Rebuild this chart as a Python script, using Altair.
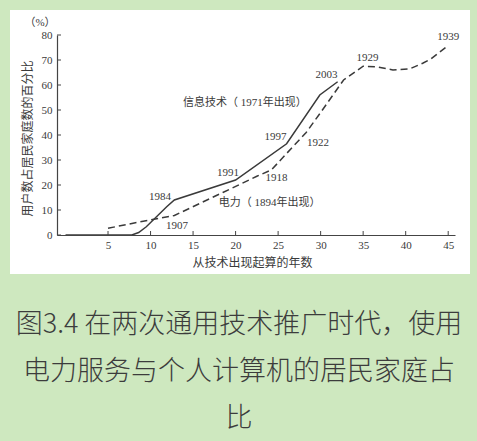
import altair as alt
import pandas as pd

# ---- data ----
# 信息技术 (1971): years since introduction vs share of households (%)
it_years = [0, 7.8, 8.6, 9.5, 11.9, 12.8, 20.0, 26.0, 29.9, 32.0]
it_share = [0, 0, 1.0, 3.3, 11.3, 14.0, 22.0, 36.5, 56.0, 61.3]

# 电力 (1894)
el_years = [5.0, 8.7, 12.8, 18.5, 22.5, 24.2, 27.2, 28.3, 30.0, 32.7, 35.0, 36.6, 38.5, 40.5, 42.0, 43.0, 45.0]
el_share = [2.7, 5.2, 7.8, 17.0, 23.5, 26.0, 37.0, 41.0, 49.0, 62.0, 67.5, 67.3, 66.0, 66.5, 68.7, 70.5, 75.8]

x_ticks = [5, 10, 15, 20, 25, 30, 35, 40, 45]
y_ticks = [0, 10, 20, 30, 40, 50, 60, 70, 80]

ann_text = ["1984", "1907", "1991", "1918", "1997", "1922", "2003", "1929", "1939",
            "信息技术（ 1971年出现）", "电力（ 1894年出现）"]
ann_x = [11.1, 13.1, 19.1, 24.8, 24.7, 29.7, 30.7, 35.5, 45.0, 21.1, 24.0]
ann_y = [15.2, 3.6, 24.9, 22.7, 39.2, 36.7, 64.0, 70.7, 79.3, 52.7, 13.0]

caption_lines = ["图3.4 在两次通用技术推广时代，使用", "电力服务与个人计算机的居民家庭占", "比"]

# ---- styling ----
SERIF = "Liberation Serif, Noto Sans CJK SC"
SANS = "Noto Sans CJK SC"
INK = "#3a3a3a"
BG = "#cee8bf"

it_df = pd.DataFrame({"x": it_years, "y": it_share})
el_df = pd.DataFrame({"x": el_years, "y": el_share})
ann_df = pd.DataFrame({"x": ann_x, "y": ann_y, "label": ann_text})
xt_df = pd.DataFrame({"x": x_ticks})
yt_df = pd.DataFrame({"y": y_ticks})
one = pd.DataFrame({"a": [0]})

xs = alt.Scale(domain=[-1, 45.8], nice=False, zero=False)
ys = alt.Scale(domain=[0, 80], nice=False, zero=False)

xaxis = alt.Axis(values=x_ticks, ticks=False, tickSize=0, labelPadding=4, grid=False,
                 labelFont=SERIF, labelFontSize=11, labelColor=INK, labelFlush=False,
                 domainColor="#444", domainWidth=1.2, format="d",
                 title="从技术出现起算的年数", titleFont=SERIF, titleFontSize=12,
                 titleFontWeight="normal", titleColor=INK, titleX=195, titleY=27,
                 titleAlign="center", titleBaseline="middle", zindex=1)
yaxis = alt.Axis(values=y_ticks, ticks=False, tickSize=0, labelPadding=5, grid=False,
                 labelFont=SERIF, labelFontSize=11, labelColor=INK, labelFlush=False,
                 domainColor="#444", domainWidth=1.2, format="d",
                 title="用户数占居民家庭数的百分比", titleFont=SERIF, titleFontSize=12,
                 titleFontWeight="normal", titleColor=INK, titleX=-30, titleY=103,
                 titleAngle=270, titleAlign="center", titleBaseline="middle", zindex=1)

X = alt.X("x:Q", scale=xs, axis=xaxis)
Y = alt.Y("y:Q", scale=ys, axis=yaxis)

panel = alt.Chart(one).mark_rect(color="white").encode(
    x=alt.value(-47), x2=alt.value(413), y=alt.value(-25), y2=alt.value(239))

it_line = alt.Chart(it_df).mark_line(color=INK, strokeWidth=1.5).encode(x=X, y=Y)
el_line = alt.Chart(el_df).mark_line(color=INK, strokeWidth=1.5, strokeDash=[7, 4]).encode(x=X, y=Y)

xticks = alt.Chart(xt_df).mark_rule(color="#444", strokeWidth=1).encode(
    x=X, y=alt.value(200), y2=alt.value(196))
yticks = alt.Chart(yt_df).mark_rule(color="#444", strokeWidth=1).encode(
    y=Y, x=alt.value(0), x2=alt.value(4))

ann = alt.Chart(ann_df).mark_text(font=SERIF, fontSize=11, color=INK,
                                  align="center", baseline="middle").encode(
    x=X, y=Y, text="label:N")

pct = alt.Chart(one).mark_text(text="（%）", font=SERIF, fontSize=11, color=INK,
                               align="center", baseline="middle").encode(
    x=alt.value(-17), y=alt.value(-12))

cap_y = [290, 337, 384]
caps = [
    alt.Chart(one).mark_text(text=t, font=SANS, fontSize=27, fontWeight=300, color="#3c3c3c",
                             align="center", baseline="middle").encode(
        x=alt.value(182), y=alt.value(cy))
    for t, cy in zip(caption_lines, cap_y)
]

chart = alt.layer(panel, el_line, it_line, xticks, yticks, ann, pct, *caps).properties(
    width=398, height=200,
    autosize=alt.AutoSizeParams(type="none"),
    padding={"left": 57, "top": 35, "right": 22, "bottom": 206},
    background=BG,
).configure_view(stroke=None)

chart.save("out.html", embed_options={"renderer": "svg", "actions": False})
